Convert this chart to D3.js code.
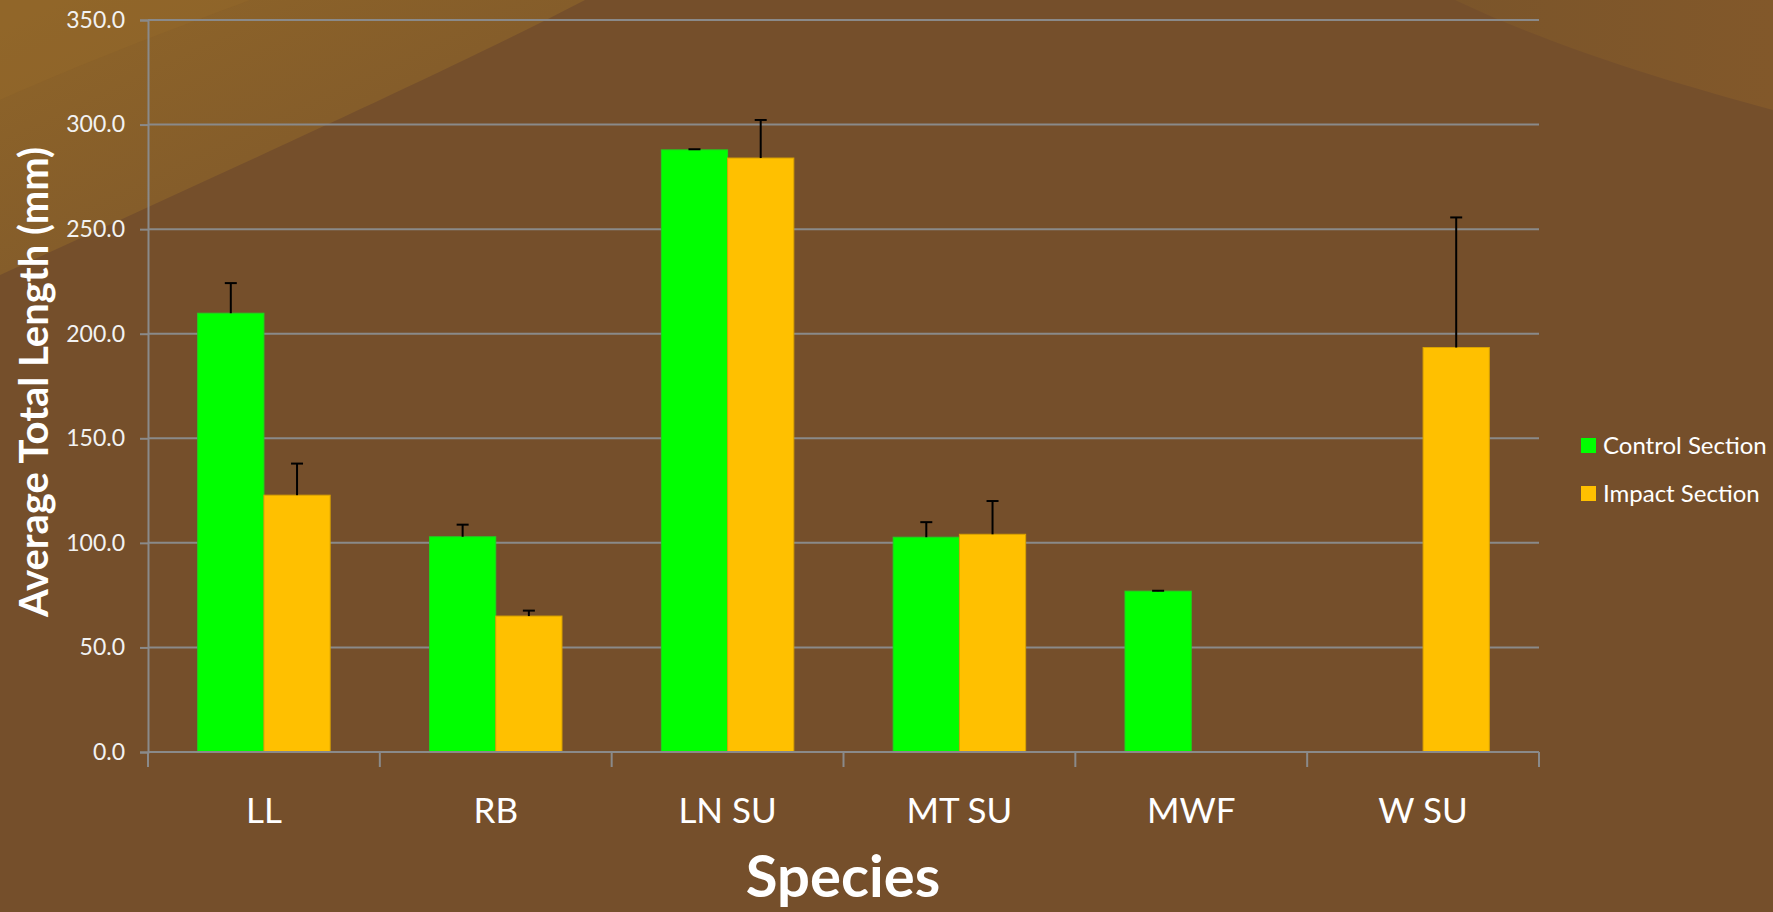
<!DOCTYPE html>
<html>
<head>
<meta charset="utf-8">
<script src="https://cdn.jsdelivr.net/npm/d3@7"></script>
<style>
  html, body { margin: 0; padding: 0; background: #754f2b; }
  svg { display: block; }
</style>
</head>
<body>
<svg id="chart" width="1773" height="912"></svg>
<script>
const categories = ["LL", "RB", "LN SU", "MT SU", "MWF", "W SU"];
const seriesNames = ["Control Section", "Impact Section"];
const controlValues = [209.8, 102.9, 287.9, 102.7, 76.9, 0];
const controlErrors = [14.4, 5.8, 0.3, 7.2, 0.2, 0];
const impactValues = [122.8, 65.0, 284.0, 104.1, 0, 193.4];
const impactErrors = [15.1, 2.6, 18.2, 15.9, 0, 62.2];
const yTicks = [0, 50, 100, 150, 200, 250, 300, 350];
const colors = ["#00ff00", "#ffc000"];
const strokeColors = ["#1fd41f", "#d9a200"];

const svg = d3.select("#chart");
const W = 1773, H = 912;
const font = "Lato, 'Open Sans', 'DejaVu Sans', sans-serif";

// background
const defs = svg.append("defs");
const g1 = defs.append("linearGradient").attr("id", "tl").attr("x1", "0").attr("y1", "0").attr("x2", "1").attr("y2", "1");
g1.append("stop").attr("offset", "0").attr("stop-color", "#8f6529");
g1.append("stop").attr("offset", "1").attr("stop-color", "#7b552b");
const g2 = defs.append("linearGradient").attr("id", "tr").attr("x1", "0").attr("y1", "0").attr("x2", "1").attr("y2", "0");
g2.append("stop").attr("offset", "0").attr("stop-color", "#7b552a");
g2.append("stop").attr("offset", "1").attr("stop-color", "#82582a");

svg.append("rect").attr("width", W).attr("height", H).attr("fill", "#754f2b");
svg.append("path").attr("d", "M0,0 L585,0 C450,70 250,160 0,275 Z").attr("fill", "url(#tl)");
svg.append("path").attr("d", "M0,0 L250,0 C170,30 90,60 0,100 Z").attr("fill", "#936829").attr("opacity", 0.5);
svg.append("path").attr("d", "M1455,0 L1773,0 L1773,110 C1680,85 1560,50 1455,0 Z").attr("fill", "url(#tr)");

const margin = { left: 148, right: 1539, top: 20, bottom: 752 };

const x0 = d3.scaleBand().domain(categories).range([margin.left, margin.right]).paddingInner(0).paddingOuter(0);
const x1 = d3.scaleBand().domain(seriesNames).range([0, x0.bandwidth()]).paddingInner(0).paddingOuter(0.75);
const y = d3.scaleLinear().domain([0, 350]).range([margin.bottom, margin.top]);

const gridColor = "#8a8a8a";

// gridlines
svg.append("g").selectAll("line").data(yTicks.filter(d => d > 0)).join("line")
  .attr("x1", margin.left).attr("x2", margin.right)
  .attr("y1", d => y(d)).attr("y2", d => y(d))
  .attr("stroke", gridColor).attr("stroke-width", 2);

// y axis
const yAxis = svg.append("g").attr("transform", `translate(${margin.left},0)`)
  .call(d3.axisLeft(y).tickValues(yTicks).tickFormat(d3.format(".1f")).tickSize(8).tickPadding(15));
yAxis.select(".domain").attr("stroke", gridColor).attr("stroke-width", 2);
yAxis.selectAll(".tick line").attr("stroke", gridColor).attr("stroke-width", 2);
yAxis.selectAll("text").attr("fill", "#f2f2f2").attr("font-size", 23).attr("font-family", font);

// bars
const rows = categories.map((c, i) => ({
  cat: c,
  vals: [
    { s: seriesNames[0], v: controlValues[i], e: controlErrors[i], k: 0 },
    { s: seriesNames[1], v: impactValues[i], e: impactErrors[i], k: 1 }
  ]
}));

const cg = svg.append("g").selectAll("g").data(rows).join("g")
  .attr("transform", d => `translate(${x0(d.cat)},0)`);

cg.selectAll("rect").data(d => d.vals.filter(v => v.v > 0)).join("rect")
  .attr("x", d => x1(d.s)).attr("width", x1.bandwidth())
  .attr("y", d => y(d.v)).attr("height", d => y(0) - y(d.v))
  .attr("fill", d => colors[d.k]).attr("stroke", d => strokeColors[d.k]).attr("stroke-width", 1);

// error bars
const eb = cg.selectAll("g.err").data(d => d.vals.filter(v => v.v > 0)).join("g").attr("class", "err");
eb.append("line")
  .attr("x1", d => x1(d.s) + x1.bandwidth() / 2).attr("x2", d => x1(d.s) + x1.bandwidth() / 2)
  .attr("y1", d => y(d.v)).attr("y2", d => y(d.v + d.e))
  .attr("stroke", "#000").attr("stroke-width", 2);
eb.append("line")
  .attr("x1", d => x1(d.s) + x1.bandwidth() / 2 - 6).attr("x2", d => x1(d.s) + x1.bandwidth() / 2 + 6)
  .attr("y1", d => y(d.v + d.e)).attr("y2", d => y(d.v + d.e))
  .attr("stroke", "#000").attr("stroke-width", 2);

// x axis
const xAxisG = svg.append("g");
xAxisG.append("line").attr("x1", margin.left).attr("x2", margin.right)
  .attr("y1", y(0)).attr("y2", y(0)).attr("stroke", gridColor).attr("stroke-width", 2);
const boundaries = categories.map(c => x0(c)).concat([x0(categories[categories.length - 1]) + x0.bandwidth()]);
xAxisG.selectAll("line.tk").data(boundaries).join("line").attr("class", "tk")
  .attr("x1", d => d).attr("x2", d => d)
  .attr("y1", y(0)).attr("y2", y(0) + 15)
  .attr("stroke", gridColor).attr("stroke-width", 2);
xAxisG.selectAll("text").data(categories).join("text")
  .attr("x", d => x0(d) + x0.bandwidth() / 2).attr("y", 823)
  .attr("text-anchor", "middle").attr("fill", "#ffffff")
  .attr("font-size", 35).attr("font-family", font).text(d => d);

// axis titles
svg.append("text").attr("x", 843).attr("y", 897).attr("text-anchor", "middle")
  .attr("fill", "#ffffff").attr("font-size", 58).attr("font-weight", "bold").attr("font-family", font)
  .text("Species");
svg.append("text").attr("transform", "translate(48,382) rotate(-90)").attr("text-anchor", "middle")
  .attr("fill", "#ffffff").attr("font-size", 40).attr("font-weight", "bold").attr("font-family", font)
  .text("Average Total Length (mm)");

// legend
const lg = svg.append("g").selectAll("g").data(seriesNames).join("g")
  .attr("transform", (d, i) => `translate(1581,${446 + i * 48})`);
lg.append("rect").attr("x", 0).attr("y", -8).attr("width", 15).attr("height", 15)
  .attr("fill", (d, i) => colors[i]);
lg.append("text").attr("x", 22).attr("y", 8).attr("fill", "#ffffff")
  .attr("font-size", 24).attr("font-family", font).text(d => d);
</script>
</body>
</html>
